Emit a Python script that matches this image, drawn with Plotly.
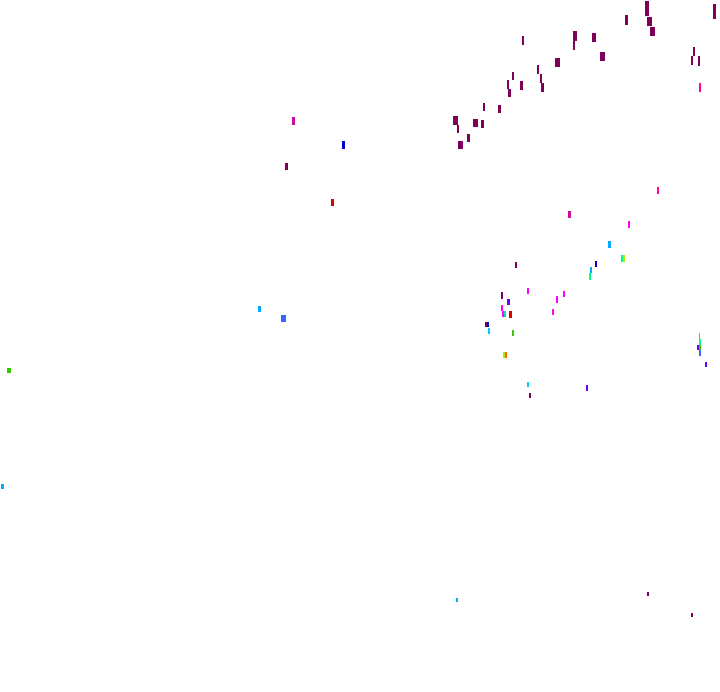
import plotly.graph_objects as go

# Each mark: left, right, top, bottom (read in chart units), colour group
DP = "#7f0059"   # dark purple
MG = "#ff00ff"   # magenta
PK = "#ff0099"   # pink
MP = "#c8109a"   # medium pink
VI = "#6a00ff"   # violet
BD = "#0000cc"   # dark blue
BL = "#3366ff"   # blue
CY = "#00aaff"   # cyan
LC = "#00ccff"   # light cyan
GR = "#00ff80"   # spring green
LG = "#33cc00"   # leaf green
YG = "#aaee00"   # yellow green
OR = "#ff6600"   # orange
RD = "#dd0000"   # red
TL = "#00e0b0"   # teal

left = [645, 647, 650, 713, 625, 573, 573, 592, 600, 555, 522, 693, 691, 698, 699,
        537, 540, 541, 512, 507, 508, 520, 483, 498, 453, 457, 473, 481, 467, 458,
        292, 342, 285, 331, 657, 568, 628, 608, 621, 623, 595, 590, 589, 515, 527,
        563, 556, 552, 501, 507, 501, 502, 504, 509, 485, 487, 488, 512, 503, 505,
        527, 586, 529, 699, 699, 699, 697, 699, 705, 258, 281, 7, 1, 456, 647, 691]
right = [649, 652, 655, 716, 628, 577, 575, 596, 605, 560, 524, 695, 693, 700, 701,
         539, 542, 544, 514, 509, 511, 523, 485, 501, 458, 459, 478, 484, 470, 463,
         295, 345, 288, 334, 659, 571, 630, 611, 623, 625, 597, 592, 591, 517, 529,
         565, 558, 554, 503, 510, 503, 504, 506, 512, 487, 489, 490, 514, 505, 507,
         529, 588, 531, 700, 701, 701, 699, 701, 707, 261, 286, 11, 4, 458, 649, 693]
top = [1, 17, 27, 4, 15, 31, 41, 33, 52, 58, 36, 47, 56, 56, 83,
       65, 74, 83, 72, 80, 89, 81, 103, 105, 116, 125, 119, 120, 134, 141,
       117, 141, 163, 199, 187, 211, 221, 241, 255, 255, 261, 267, 273, 262, 288,
       291, 296, 309, 292, 299, 305, 311, 311, 311, 322, 322, 328, 330, 352, 352,
       382, 385, 393, 333, 339, 345, 345, 350, 362, 306, 315, 368, 484, 598, 592, 613]
bottom = [16, 26, 36, 19, 25, 41, 50, 42, 61, 67, 45, 56, 65, 66, 92,
          74, 83, 92, 80, 89, 97, 90, 111, 113, 125, 133, 127, 128, 142, 149,
          125, 149, 170, 206, 194, 218, 228, 248, 262, 262, 267, 273, 280, 268, 294,
          297, 303, 315, 299, 305, 311, 317, 317, 318, 327, 327, 334, 336, 358, 358,
          387, 391, 398, 340, 345, 350, 350, 356, 367, 312, 322, 373, 489, 602, 596, 617]
colour = [DP, DP, DP, DP, DP, DP, DP, DP, DP, DP, DP, DP, DP, DP, PK,
          DP, DP, DP, DP, DP, DP, DP, DP, DP, DP, DP, DP, DP, DP, DP,
          MP, BD, DP, RD, PK, MP, MG, CY, GR, YG, BD, CY, GR, DP, MG,
          MG, MG, MG, DP, VI, MG, MG, TL, RD, DP, BD, LC, LG, YG, OR,
          LC, VI, DP, TL, GR, LG, VI, BL, VI, CY, BL, LG, CY, CY, DP, DP]

centre = [(a + b) / 2 for a, b in zip(left, right)]
span = [b - a for a, b in zip(left, right)]
height = [b - t for t, b in zip(top, bottom)]

fig = go.Figure(go.Bar(
    x=centre, y=height, base=top, width=span,
    marker=dict(color=colour, line=dict(width=0)),
    showlegend=False, hoverinfo="skip",
))

fig.update_layout(
    width=720, height=692,
    margin=dict(l=0, r=0, t=0, b=0),
    paper_bgcolor="white", plot_bgcolor="white",
    xaxis=dict(range=[0, 720], visible=False, fixedrange=True),
    yaxis=dict(range=[692, 0], visible=False, fixedrange=True),
    bargap=0,
)

fig.write_html(
    "out.html",
    config={"displayModeBar": False},
    post_script="document.body.style.margin='0';document.body.style.overflow='hidden';",
)
